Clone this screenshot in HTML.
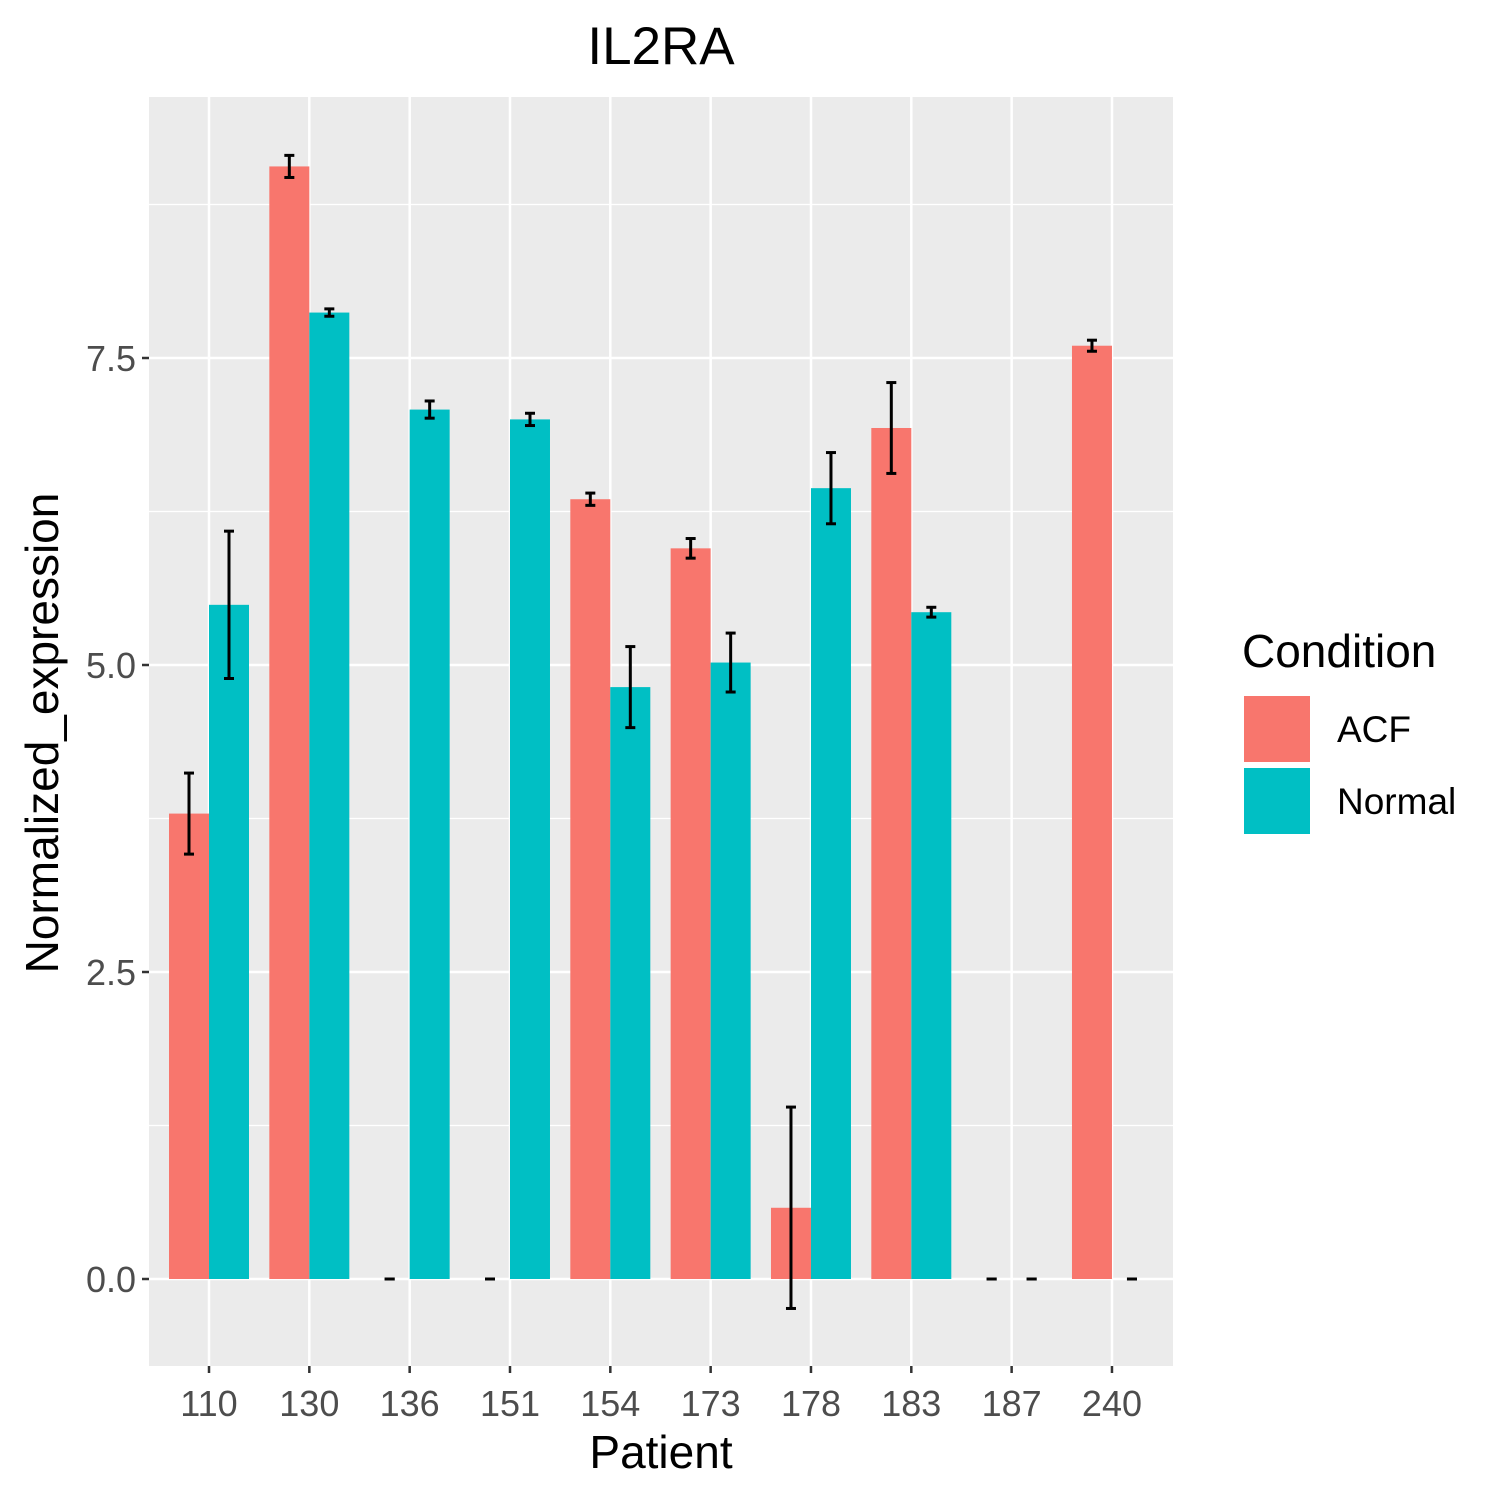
<!DOCTYPE html>
<html><head><meta charset="utf-8"><style>body{margin:0;background:#fff}svg{display:block;font-family:"Liberation Sans",Arial,sans-serif}</style></head>
<body>
<svg id="chart" width="1500" height="1500"></svg>
<script>
const categories=["110","130","136","151","154","173","178","183","187","240"];
const acfValues=[3.79,9.06,0,0,6.35,5.95,0.58,6.93,0,7.6];
const acfErrors=[0.33,0.09,0,0,0.05,0.08,0.82,0.37,0,0.045];
const normalValues=[5.49,7.87,7.08,7.0,4.82,5.02,6.44,5.43,0,0];
const normalErrors=[0.6,0.03,0.07,0.05,0.33,0.24,0.29,0.04,0,0];
const yTicks=[0,2.5,5,7.5];
const yTickLabels=["0.0","2.5","5.0","7.5"];
const yMinor=[1.25,3.75,6.25,8.75];

const NS="http://www.w3.org/2000/svg";
const svg=document.getElementById('chart');
const P={l:149,r:1173,t:97,b:1366};
const y=v=>1279-v*122.8;
const x=i=>209+i*100.33;
function mk(t,a,parent){const e=document.createElementNS(NS,t);for(const k in a)e.setAttribute(k,a[k]);(parent||svg).appendChild(e);return e;}

const panel=mk('rect',{x:P.l,y:P.t,width:P.r-P.l,height:P.b-P.t,fill:'#ebebeb'});


yMinor.forEach(v=>{const l=mk('line',{x1:P.l,x2:P.r,y1:y(v),y2:y(v),stroke:'#fff','stroke-width':1.2});

});
yTicks.forEach((v,i)=>{const l=mk('line',{x1:P.l,x2:P.r,y1:y(v),y2:y(v),stroke:'#fff','stroke-width':2.5});


const tk=mk('line',{x1:P.l-7,x2:P.l,y1:y(v),y2:y(v),stroke:'#333','stroke-width':2.5});


const t=mk('text',{x:P.l-13,y:y(v)+13,'text-anchor':'end','font-size':36,fill:'#4d4d4d'});t.textContent=yTickLabels[i];

});
categories.forEach((c,i)=>{const l=mk('line',{x1:x(i),x2:x(i),y1:P.t,y2:P.b,stroke:'#fff','stroke-width':2.5});


const tk=mk('line',{x1:x(i),x2:x(i),y1:P.b,y2:P.b+7,stroke:'#333','stroke-width':2.5});


const t=mk('text',{x:x(i),y:1416,'text-anchor':'middle','font-size':36,fill:'#4d4d4d'});t.textContent=c;

});
function series(vals,errs,off,color,name){vals.forEach((v,i)=>{const cx=x(i)+off;
const b=mk('rect',{x:cx-20,y:Math.min(y(v),y(0)),width:40,height:Math.abs(y(0)-y(v)),fill:color});


const g=mk('g',{stroke:'#000','stroke-width':3});


const lo=y(v-errs[i]),hi=y(v+errs[i]);
mk('line',{x1:cx,x2:cx,y1:hi,y2:lo},g);mk('line',{x1:cx-5,x2:cx+5,y1:hi,y2:hi},g);mk('line',{x1:cx-5,x2:cx+5,y1:lo,y2:lo},g);});}
series(acfValues,acfErrors,-20,'#f8766d','acf');
series(normalValues,normalErrors,20,'#00bfc4','normal');

const tt=mk('text',{x:661,y:64,'text-anchor':'middle','font-size':53});tt.textContent='IL2RA';


const xt=mk('text',{x:661,y:1468,'text-anchor':'middle','font-size':46});xt.textContent='Patient';


const yt=mk('text',{x:0,y:0,'text-anchor':'middle','font-size':46,transform:'translate(58,733) rotate(-90)'});yt.textContent='Normalized_expression';


const lt=mk('text',{x:1242,y:667,'font-size':46});lt.textContent='Condition';


[['ACF','#f8766d',695],['Normal','#00bfc4',767]].forEach(([n,c,ty])=>{
const r=mk('rect',{x:1243,y:ty,width:68,height:68,fill:c,stroke:'#fff','stroke-width':2});


const t=mk('text',{x:1337,y:ty+47,'font-size':37});t.textContent=n;

});
</script>
</body></html>
